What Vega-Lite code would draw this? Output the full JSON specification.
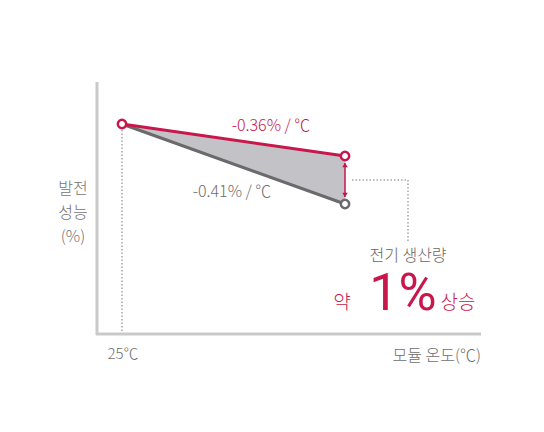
{
  "$schema": "https://vega.github.io/schema/vega-lite/v6.json",
  "width": 544,
  "height": 432,
  "autosize": "none",
  "padding": 0,
  "background": "white",
  "config": {"view": {"stroke": null}, "text": {"font": "Noto Sans CJK KR", "fontWeight": 300}},
  "datasets": {
    "axes": [
      {"x": 97, "y": 82, "x2": 97, "y2": 335},
      {"x": 96, "y": 334, "x2": 481, "y2": 334}
    ],
    "guides": [
      {"x": 122, "y": 130, "x2": 122, "y2": 333},
      {"x": 352, "y": 180, "x2": 408, "y2": 180},
      {"x": 408, "y": 180, "x2": 408, "y2": 241}
    ],
    "band": [
      {"x": 122, "top": 124, "bottom": 124},
      {"x": 345, "top": 156, "bottom": 204}
    ],
    "lines": [
      {"series": "gray", "x": 122, "y": 124},
      {"series": "gray", "x": 345, "y": 204},
      {"series": "red", "x": 122, "y": 124},
      {"series": "red", "x": 345, "y": 156}
    ],
    "ends": [
      {"series": "red", "x": 122, "y": 124},
      {"series": "red", "x": 345, "y": 156},
      {"series": "gray", "x": 345, "y": 204}
    ]
  },
  "layer": [
    {
      "data": {"name": "axes"},
      "mark": {"type": "rule", "color": "#c9c9c9", "strokeWidth": 3},
      "encoding": {
        "x": {"field": "x", "type": "quantitative", "scale": {"domain": [0, 544], "nice": false, "zero": false}, "axis": null},
        "y": {"field": "y", "type": "quantitative", "scale": {"domain": [0, 432], "nice": false, "zero": false, "reverse": true}, "axis": null},
        "x2": {"field": "x2"},
        "y2": {"field": "y2"}
      }
    },
    {
      "data": {"name": "guides"},
      "mark": {"type": "rule", "color": "#a5a5a5", "strokeWidth": 1.5, "strokeDash": [1.5, 2]},
      "encoding": {
        "x": {"field": "x", "type": "quantitative"},
        "y": {"field": "y", "type": "quantitative"},
        "x2": {"field": "x2"},
        "y2": {"field": "y2"}
      }
    },
    {
      "data": {"name": "band"},
      "mark": {"type": "area", "color": "#c3c3c7", "opacity": 1},
      "encoding": {
        "x": {"field": "x", "type": "quantitative"},
        "y": {"field": "top", "type": "quantitative"},
        "y2": {"field": "bottom"}
      }
    },
    {
      "data": {"name": "lines"},
      "mark": {"type": "line", "strokeWidth": 3},
      "encoding": {
        "x": {"field": "x", "type": "quantitative"},
        "y": {"field": "y", "type": "quantitative"},
        "color": {"field": "series", "type": "nominal", "scale": {"domain": ["red", "gray"], "range": ["#c8174b", "#6a6a6a"]}, "legend": null},
        "order": {"field": "x"}
      }
    },
    {
      "data": {"values": [{"x": 345, "y": 163, "y2": 197}]},
      "mark": {"type": "rule", "color": "#c8174b", "strokeWidth": 1.5},
      "encoding": {
        "x": {"field": "x", "type": "quantitative"},
        "y": {"field": "y", "type": "quantitative"},
        "y2": {"field": "y2"}
      }
    },
    {
      "data": {"values": [{"x": 345, "y": 165}]},
      "mark": {"type": "point", "shape": "triangle-up", "filled": true, "color": "#c8174b", "size": 30, "opacity": 1},
      "encoding": {
        "x": {"field": "x", "type": "quantitative"},
        "y": {"field": "y", "type": "quantitative"}
      }
    },
    {
      "data": {"values": [{"x": 345, "y": 195}]},
      "mark": {"type": "point", "shape": "triangle-down", "filled": true, "color": "#c8174b", "size": 30, "opacity": 1},
      "encoding": {
        "x": {"field": "x", "type": "quantitative"},
        "y": {"field": "y", "type": "quantitative"}
      }
    },
    {
      "data": {"name": "ends"},
      "mark": {"type": "point", "filled": true, "fill": "white", "strokeWidth": 2.5, "size": 70, "opacity": 1},
      "encoding": {
        "x": {"field": "x", "type": "quantitative"},
        "y": {"field": "y", "type": "quantitative"},
        "stroke": {"field": "series", "type": "nominal", "scale": {"domain": ["red", "gray"], "range": ["#c8174b", "#6a6a6a"]}, "legend": null}
      }
    },
    {
      "data": {"values": [{"x": 271, "y": 131, "label": "-0.36% / ℃"}]},
      "mark": {"type": "text", "color": "#c8174b", "fontSize": 16, "align": "center", "baseline": "alphabetic"},
      "encoding": {
        "x": {"field": "x", "type": "quantitative"},
        "y": {"field": "y", "type": "quantitative"},
        "text": {"field": "label"}
      }
    },
    {
      "data": {"values": [{"x": 232, "y": 197, "label": "-0.41% / ℃"}]},
      "mark": {"type": "text", "color": "#6e6e6e", "fontSize": 16, "align": "center", "baseline": "alphabetic"},
      "encoding": {
        "x": {"field": "x", "type": "quantitative"},
        "y": {"field": "y", "type": "quantitative"},
        "text": {"field": "label"}
      }
    },
    {
      "data": {"values": [{"x": 123, "y": 359, "label": "25℃"}]},
      "mark": {"type": "text", "color": "#6e6e6e", "fontSize": 15, "align": "center", "baseline": "alphabetic"},
      "encoding": {
        "x": {"field": "x", "type": "quantitative"},
        "y": {"field": "y", "type": "quantitative"},
        "text": {"field": "label"}
      }
    },
    {
      "data": {"values": [
        {"x": 73, "y": 194, "label": "발전"},
        {"x": 73, "y": 218, "label": "성능"},
        {"x": 73, "y": 242, "label": "(%)"}
      ]},
      "mark": {"type": "text", "color": "#747474", "fontSize": 16, "align": "center", "baseline": "alphabetic"},
      "encoding": {
        "x": {"field": "x", "type": "quantitative"},
        "y": {"field": "y", "type": "quantitative"},
        "text": {"field": "label"}
      }
    },
    {
      "data": {"values": [{"x": 481, "y": 361, "label": "모듈 온도(℃)"}]},
      "mark": {"type": "text", "color": "#6e6e6e", "fontSize": 16, "align": "right", "baseline": "alphabetic"},
      "encoding": {
        "x": {"field": "x", "type": "quantitative"},
        "y": {"field": "y", "type": "quantitative"},
        "text": {"field": "label"}
      }
    },
    {
      "data": {"values": [{"x": 408, "y": 261, "label": "전기 생산량"}]},
      "mark": {"type": "text", "color": "#666666", "fontSize": 16, "align": "center", "baseline": "alphabetic"},
      "encoding": {
        "x": {"field": "x", "type": "quantitative"},
        "y": {"field": "y", "type": "quantitative"},
        "text": {"field": "label"}
      }
    },
    {
      "data": {"values": [
        {"x": 342, "y": 309, "label": "약"},
        {"x": 458, "y": 309, "label": "상승"}
      ]},
      "mark": {"type": "text", "color": "#c8174b", "fontSize": 19, "align": "center", "baseline": "alphabetic"},
      "encoding": {
        "x": {"field": "x", "type": "quantitative"},
        "y": {"field": "y", "type": "quantitative"},
        "text": {"field": "label"}
      }
    },
    {
      "data": {"values": [{"x": 403, "y": 310, "label": "1%"}]},
      "mark": {"type": "text", "font": "Roboto", "color": "#c8174b", "fontSize": 52, "fontWeight": 400, "align": "center", "baseline": "alphabetic"},
      "encoding": {
        "x": {"field": "x", "type": "quantitative"},
        "y": {"field": "y", "type": "quantitative"},
        "text": {"field": "label"}
      }
    }
  ]
}
